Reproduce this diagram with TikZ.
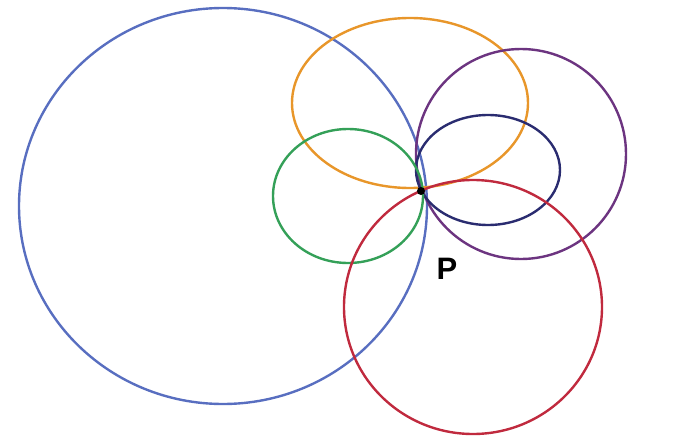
\documentclass[tikz,border=0pt]{standalone}
\usepackage{fontspec}
\setsansfont{Liberation Sans}
\definecolor{cblue}{RGB}{88,110,192}
\definecolor{corange}{RGB}{232,150,42}
\definecolor{cpurple}{RGB}{108,52,128}
\definecolor{cnavy}{RGB}{42,44,112}
\definecolor{cgreen}{RGB}{52,160,88}
\definecolor{cred}{RGB}{192,42,62}

\begin{document}
\begin{tikzpicture}[x=1pt,y=-1pt,
  curve/.style={line width=2.4pt},
  label/.style={font=\sffamily\bfseries\fontsize{31}{34}\selectfont,text=black},
]
\useasboundingbox (0,0) rectangle (673,439);

\draw[curve,draw=cblue] (223,206) ellipse [x radius=204pt,y radius=198pt];
\draw[curve,draw=corange] (410,103) ellipse [x radius=118pt,y radius=85pt];
\draw[curve,draw=cpurple] (521,154) ellipse [x radius=105pt,y radius=105pt];
\draw[curve,draw=cnavy] (488,170) ellipse [x radius=72pt,y radius=55pt];
\draw[curve,draw=cgreen] (348,196) ellipse [x radius=75pt,y radius=67pt];
\draw[curve,draw=cred] (473,307) ellipse [x radius=129pt,y radius=127pt];

\coordinate (P) at (421,191);
\fill (P) circle (4pt);
\node[label] (Plab) at (447,269) {P};

\end{tikzpicture}
\end{document}
